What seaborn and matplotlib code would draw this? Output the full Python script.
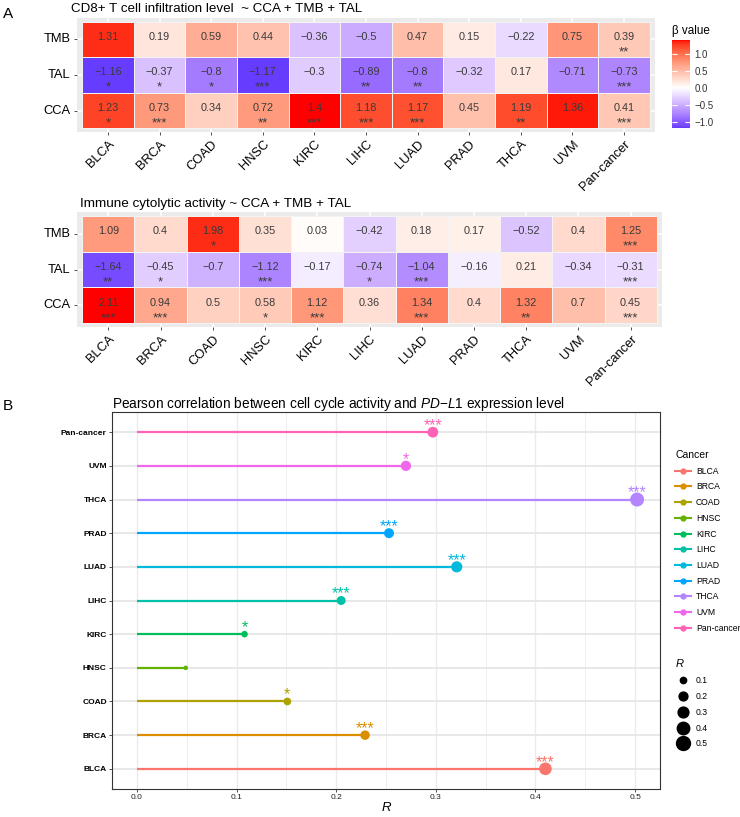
import numpy as np
import pandas as pd
import matplotlib
matplotlib.use("Agg")
import matplotlib.pyplot as plt
import seaborn as sns
from matplotlib.colors import ListedColormap
from matplotlib.lines import Line2D

# ---------------- data ----------------
cancers = ["BLCA", "BRCA", "COAD", "HNSC", "KIRC", "LIHC", "LUAD", "PRAD", "THCA", "UVM", "Pan-cancer"]
predictors = ["TMB", "TAL", "CCA"]

cd8_tmb = [1.31, 0.19, 0.59, 0.44, -0.36, -0.5, 0.47, 0.15, -0.22, 0.75, 0.39]
cd8_tmb_sig = ["", "", "", "", "", "", "", "", "", "", "**"]
cd8_tal = [-1.16, -0.37, -0.8, -1.17, -0.3, -0.89, -0.8, -0.32, 0.17, -0.71, -0.73]
cd8_tal_sig = ["*", "*", "*", "***", "", "**", "**", "", "", "", "***"]
cd8_cca = [1.23, 0.73, 0.34, 0.72, 1.4, 1.18, 1.17, 0.45, 1.19, 1.36, 0.41]
cd8_cca_sig = ["*", "***", "", "**", "***", "***", "***", "", "**", "", "***"]

ica_tmb = [1.09, 0.4, 1.98, 0.35, 0.03, -0.42, 0.18, 0.17, -0.52, 0.4, 1.25]
ica_tmb_sig = ["", "", "*", "", "", "", "", "", "", "", "***"]
ica_tal = [-1.64, -0.45, -0.7, -1.12, -0.17, -0.74, -1.04, -0.16, 0.21, -0.34, -0.31]
ica_tal_sig = ["**", "*", "", "***", "", "*", "***", "", "", "", "***"]
ica_cca = [2.11, 0.94, 0.5, 0.58, 1.12, 0.36, 1.34, 0.4, 1.32, 0.7, 0.45]
ica_cca_sig = ["***", "***", "", "*", "***", "", "***", "", "**", "", "***"]

pdl1_r = [0.41, 0.229, 0.151, 0.049, 0.108, 0.205, 0.321, 0.253, 0.502, 0.27, 0.297]
pdl1_sig = ["***", "***", "*", "", "*", "***", "***", "***", "***", "*", "***"]

hue_colors = ["#F8766D", "#DB8E00", "#AEA200", "#64B200", "#00BD5C", "#00C1A7",
              "#00BADE", "#00A6FF", "#B385FF", "#EF67EB", "#FF63B6"]
cbar_ticks = [-1.0, -0.5, 0.0, 0.5, 1.0]
cbar_labels = ["\u22121.0", "\u22120.5", "0.0", "0.5", "1.0"]
r_legend_values = [0.1, 0.2, 0.3, 0.4, 0.5]

# ---------------- style ----------------
plt.rcParams["font.family"] = ["Liberation Sans", "DejaVu Sans"]
plt.rcParams["mathtext.fontset"] = "custom"
plt.rcParams["mathtext.rm"] = "Liberation Sans"
plt.rcParams["mathtext.it"] = "Liberation Sans:italic"

W, H = 740, 817
fig = plt.figure(figsize=(W / 100, H / 100), dpi=100)


def rect(x0, y0, x1, y1):
    return [x0 / W, 1 - y1 / H, (x1 - x0) / W, (y1 - y0) / H]


# ---- CIELAB gradient like ggplot's scale_fill_gradient2 ----
def srgb_to_lab(rgb):
    c = np.array(rgb, dtype=float)
    c = np.where(c <= 0.04045, c / 12.92, ((c + 0.055) / 1.055) ** 2.4)
    M = np.array([[0.4124, 0.3576, 0.1805], [0.2126, 0.7152, 0.0722], [0.0193, 0.1192, 0.9505]])
    X, Y, Z = M @ c
    X, Y, Z = X / 0.95047, Y / 1.0, Z / 1.08883
    f = lambda t: t ** (1 / 3) if t > 0.008856 else 7.787 * t + 16 / 116
    fx, fy, fz = f(X), f(Y), f(Z)
    return np.array([116 * fy - 16, 500 * (fx - fy), 200 * (fy - fz)])


def lab_to_srgb(lab):
    L, a, b = lab
    fy = (L + 16) / 116
    fx = fy + a / 500
    fz = fy - b / 200
    finv = lambda t: t ** 3 if t ** 3 > 0.008856 else (t - 16 / 116) / 7.787
    X, Y, Z = 0.95047 * finv(fx), 1.0 * finv(fy), 1.08883 * finv(fz)
    Mi = np.array([[3.2406, -1.5372, -0.4986], [-0.9689, 1.8758, 0.0415], [0.0557, -0.2040, 1.0570]])
    c = Mi @ np.array([X, Y, Z])
    c = np.clip(c, 0, 1)
    c = np.where(c <= 0.0031308, 12.92 * c, 1.055 * c ** (1 / 2.4) - 0.055)
    return np.clip(c, 0, 1)


LAB_LOW = srgb_to_lab([0, 0, 1])
LAB_MID = srgb_to_lab([1, 1, 1])
LAB_HIGH = srgb_to_lab([1, 0, 0])


def grad2(p):
    if p < 0.5:
        t = p / 0.5
        return lab_to_srgb(LAB_LOW + (LAB_MID - LAB_LOW) * t)
    t = (p - 0.5) / 0.5
    return lab_to_srgb(LAB_MID + (LAB_HIGH - LAB_MID) * t)


def make_cmap(vmin, vmax):
    m = max(abs(vmin), abs(vmax))
    vals = np.linspace(vmin, vmax, 256)
    return ListedColormap([grad2(v / (2 * m) + 0.5) for v in vals])


def fmt(v):
    return f"{v:g}".replace("-", "\u2212")


def draw_heat(ax, rows, sigs, cax=None):
    df = pd.DataFrame(rows, index=predictors, columns=cancers)
    sg = pd.DataFrame(sigs, index=predictors, columns=cancers)
    vmin, vmax = df.values.min(), df.values.max()
    ax.set_facecolor("#EBEBEB")
    sns.heatmap(df, ax=ax, cmap=make_cmap(vmin, vmax), vmin=vmin, vmax=vmax,
                cbar=cax is not None, cbar_ax=cax, linewidths=0.5, linecolor="#F3F3F3")
    ax.set_xlim(-0.1, len(cancers) + 0.1)
    ax.set_ylim(len(predictors) + 0.1, -0.1)
    ax.set_axisbelow(True)
    ax.grid(True, color="white", lw=1.1)
    for i, r in enumerate(predictors):
        for j, c in enumerate(cancers):
            ax.text(j + 0.5, i + 0.505, fmt(df.loc[r, c]), ha="center", va="baseline",
                    fontsize=7.8, color="#3A3A3A")
            if sg.loc[r, c]:
                ax.text(j + 0.5, i + 0.945, sg.loc[r, c], ha="center", va="baseline",
                        fontsize=9.5, color="#3A3A3A")
    ax.set_yticklabels(predictors, rotation=0)
    ax.set_xticklabels(cancers, rotation=45, ha="right", va="top", rotation_mode="anchor")
    ax.tick_params(axis="both", length=2.5, width=0.6, color="#333333", labelsize=9.3,
                   labelcolor="black", pad=2)
    ax.set_xlabel("")
    ax.set_ylabel("")
    return df


# ---------------- Panel A ----------------
ax1 = fig.add_axes(rect(77, 18, 655, 132))
cax = fig.add_axes(rect(672, 40, 690, 128))
draw_heat(ax1, [cd8_tmb, cd8_tal, cd8_cca], [cd8_tmb_sig, cd8_tal_sig, cd8_cca_sig], cax=cax)
cax.set_yticks(cbar_ticks)
cax.set_yticklabels(cbar_labels)
cax.tick_params(axis="y", direction="in", left=True, right=True, labelleft=False, labelright=True,
                color="white", length=3.5, width=0.8, labelsize=7, labelcolor="#333333", pad=3)
cax.set_frame_on(False)
fig.text(672 / W, 1 - 34 / H, "\u03b2 value", fontsize=8.4, ha="left", va="baseline")

ax2 = fig.add_axes(rect(77, 212, 662, 327))
draw_heat(ax2, [ica_tmb, ica_tal, ica_cca], [ica_tmb_sig, ica_tal_sig, ica_cca_sig])

fig.text(3 / W, 1 - 18 / H, "A", fontsize=11, ha="left", va="baseline")
fig.text(71 / W, 1 - 12 / H, "CD8+ T cell infiltration level  ~ CCA + TMB + TAL", fontsize=9.6,
         ha="left", va="baseline")
fig.text(80 / W, 1 - 206.5 / H, "Immune cytolytic activity ~ CCA + TMB + TAL", fontsize=9.7,
         ha="left", va="baseline")

# ---------------- Panel B ----------------
ax3 = fig.add_axes(rect(112, 412, 660, 789))
dfb = pd.DataFrame({"Cancer": cancers, "R": pdl1_r, "sig": pdl1_sig})
palette = dict(zip(cancers, hue_colors))
rmin, rmax = min(pdl1_r), max(pdl1_r)
smin, smax = 10.5, 101.0

sns.scatterplot(data=dfb, x="R", y="Cancer", hue="Cancer", palette=palette, size="R",
                sizes=(smin, smax), size_norm=(rmin, rmax), legend=False, ax=ax3,
                linewidth=0, zorder=3)
ax3.hlines(y=dfb["Cancer"], xmin=0, xmax=dfb["R"], colors=[palette[c] for c in cancers],
           lw=1.6, zorder=2)
for i, row in dfb.iterrows():
    if row["sig"]:
        ax3.text(row["R"], i + 0.06, row["sig"], ha="center", va="baseline",
                 color=palette[row["Cancer"]], fontsize=11.5, zorder=4)

ax3.set_xlim(-0.025, 0.525)
ax3.set_ylim(-0.6, len(cancers) - 0.4)
ax3.set_xticks([0.0, 0.1, 0.2, 0.3, 0.4, 0.5])
ax3.set_xticklabels(["0.0", "0.1", "0.2", "0.3", "0.4", "0.5"])
ax3.set_xticks([0.05, 0.15, 0.25, 0.35, 0.45], minor=True)
ax3.set_axisbelow(True)
ax3.grid(which="major", axis="x", color="#EBEBEB", lw=1.0)
ax3.grid(which="minor", axis="x", color="#EBEBEB", lw=0.6)
ax3.grid(which="major", axis="y", color="#E6E6E6", lw=1.3)
ax3.tick_params(which="minor", length=0)
ax3.tick_params(axis="both", which="major", length=2.2, width=0.6, color="#333333",
                labelsize=6, labelcolor="#222222", pad=1.5)
for lab in ax3.get_yticklabels():
    lab.set_fontweight("bold")
    lab.set_color("black")
for s in ax3.spines.values():
    s.set_color("#333333")
    s.set_linewidth(0.8)
ax3.set_xlabel("R", fontsize=9.5, style="italic", labelpad=0.5)
ax3.set_ylabel("")

fig.text(3 / W, 1 - 410 / H, "B", fontsize=11, ha="left", va="baseline")
fig.text(112 / W, 1 - 408 / H,
         "Pearson correlation between cell cycle activity and $\\mathit{PD}$\u2212$\\mathit{L1}$ expression level",
         fontsize=9.8, ha="left", va="baseline")

# legends
cancer_handles = [Line2D([0], [0], color=palette[c], lw=1.5, marker="o", markersize=3.5)
                  for c in cancers]
leg1 = fig.legend(cancer_handles, cancers, loc="upper left",
                  bbox_to_anchor=(675 / W, 1 - 450 / H), frameon=False, fontsize=6.2,
                  title="Cancer", title_fontsize=7.5, borderpad=0, borderaxespad=0,
                  labelspacing=0.78, handlelength=1.9, handletextpad=0.55, alignment="left")


def size_for(v):
    return np.sqrt(smin + (smax - smin) * (v - rmin) / (rmax - rmin))


r_handles = [Line2D([0], [0], color="black", lw=0, marker="o", markersize=size_for(v))
             for v in r_legend_values]
leg2 = fig.legend(r_handles, [f"{v:.1f}" for v in r_legend_values], loc="upper left",
                  bbox_to_anchor=(675 / W, 1 - 657 / H), frameon=False, fontsize=6.2,
                  title="$\\mathit{R}$", title_fontsize=8, borderpad=0, borderaxespad=0,
                  labelspacing=0.8, handlelength=1.9, handletextpad=0.55, alignment="left")

fig.savefig("out.png", dpi=100)
